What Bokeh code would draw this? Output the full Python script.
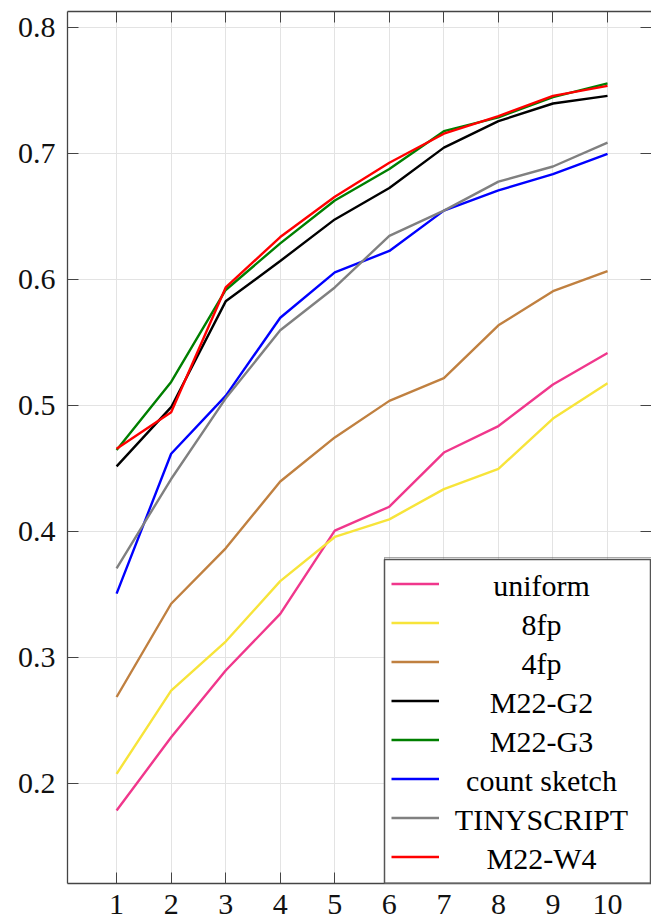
from bokeh.plotting import figure
from bokeh.models import (Legend, LegendItem, LinearAxis, FixedTicker, Range1d, Label,
                          BoxAnnotation)
from bokeh.embed import file_html
from bokeh.resources import INLINE

# x positions (1..10)
steps = [1, 2, 3, 4, 5, 6, 7, 8, 9, 10]

uniform      = [0.179, 0.237, 0.290, 0.335, 0.401, 0.420, 0.463, 0.484, 0.517, 0.542]
fp8          = [0.208, 0.274, 0.313, 0.361, 0.396, 0.410, 0.434, 0.450, 0.490, 0.518]
fp4          = [0.269, 0.343, 0.387, 0.440, 0.475, 0.504, 0.522, 0.564, 0.591, 0.607]
m22_g2       = [0.452, 0.499, 0.583, 0.615, 0.648, 0.673, 0.705, 0.726, 0.740, 0.746]
m22_g3       = [0.465, 0.519, 0.592, 0.629, 0.663, 0.688, 0.718, 0.729, 0.745, 0.756]
count_sketch = [0.351, 0.462, 0.508, 0.570, 0.606, 0.623, 0.655, 0.671, 0.684, 0.700]
tinyscript   = [0.371, 0.442, 0.506, 0.560, 0.594, 0.635, 0.655, 0.678, 0.690, 0.709]
m22_w4       = [0.466, 0.495, 0.594, 0.634, 0.666, 0.693, 0.716, 0.730, 0.746, 0.754]

labels = ["uniform", "8fp", "4fp", "M22-G2", "M22-G3", "count sketch", "TINYSCRIPT", "M22-W4"]
series = [uniform, fp8, fp4, m22_g2, m22_g3, count_sketch, tinyscript, m22_w4]
colors = ["#f0378c", "#f7e43a", "#c08040", "#000000", "#007f00", "#0000ff", "#808080", "#ff0000"]

x_ticks = steps
y_ticks = [0.2, 0.3, 0.4, 0.5, 0.6, 0.7, 0.8]

FONT = "Liberation Serif"
AXIS_COLOR = "#444444"

p = figure(width=651, height=919, output_backend="svg", toolbar_location=None,
           x_range=Range1d(0.1, 10.806), y_range=Range1d(0.121, 0.813),
           min_border_left=67, min_border_right=0, min_border_top=11, min_border_bottom=36,
           x_axis_location=None, y_axis_location=None)
p.outline_line_color = None
p.background_fill_color = "white"
p.border_fill_color = "white"


def style_axis(ax, ticks, show_labels):
    ax.major_tick_in = 11
    ax.major_tick_out = 0
    ax.minor_tick_in = 0
    ax.minor_tick_out = 0
    ax.major_tick_line_color = AXIS_COLOR
    ax.major_tick_line_width = 1
    ax.axis_line_color = AXIS_COLOR
    ax.axis_line_width = 1.3
    if show_labels:
        ax.major_label_text_font = FONT
        ax.major_label_text_font_size = "30px"
        ax.major_label_text_color = "#111111"
    else:
        # tick marks only on the mirrored sides
        ax.major_label_overrides = {t: "" for t in ticks}
        ax.major_label_text_font_size = "1px"
        ax.major_label_standoff = 0


xb = LinearAxis(ticker=FixedTicker(ticks=x_ticks))
style_axis(xb, x_ticks, True)
xb.major_label_standoff = 11
p.add_layout(xb, "below")

xt = LinearAxis(ticker=FixedTicker(ticks=x_ticks))
style_axis(xt, x_ticks, False)
p.add_layout(xt, "above")

yl = LinearAxis(ticker=FixedTicker(ticks=y_ticks))
style_axis(yl, y_ticks, True)
yl.major_label_standoff = 12
p.add_layout(yl, "left")

yr = LinearAxis(ticker=FixedTicker(ticks=y_ticks))
style_axis(yr, y_ticks, False)
yr.axis_line_color = None
p.add_layout(yr, "right")

p.xgrid.ticker = FixedTicker(ticks=x_ticks)
p.ygrid.ticker = FixedTicker(ticks=y_ticks)
p.xgrid.grid_line_color = "#e3e3e3"
p.ygrid.grid_line_color = "#e3e3e3"

items = []
for name, vals, col in zip(labels, series, colors):
    r = p.line(steps, vals, line_color=col, line_width=2.4)
    items.append(LegendItem(label=" ", renderers=[r]))

# legend: white framed panel underneath, swatches from the Legend,
# names centred in the label column by Labels
LEG_X, LEG_PAD, ROW_H, GLYPH_W, LABEL_W = 317, 6, 39, 48, 206
n = len(labels)
leg_w = 2 * LEG_PAD + GLYPH_W + LABEL_W
leg_h = 2 * LEG_PAD + n * ROW_H

p.add_layout(BoxAnnotation(left=LEG_X, right=LEG_X + leg_w, bottom=0, top=leg_h,
                           left_units="screen", right_units="screen",
                           bottom_units="screen", top_units="screen",
                           fill_color="white", fill_alpha=1.0,
                           line_color="#555555", line_width=1.5, line_alpha=1.0,
                           level="annotation"))

legend = Legend(items=items, location=(LEG_X, 0),
                glyph_width=GLYPH_W, glyph_height=ROW_H, label_height=ROW_H,
                label_width=LABEL_W, spacing=0, padding=LEG_PAD, label_standoff=0,
                label_text_font=FONT, label_text_font_size="28px",
                border_line_color="#555555", border_line_width=1.5,
                background_fill_alpha=0.0, margin=0)
p.add_layout(legend, "center")

for i, name in enumerate(labels):
    p.add_layout(Label(x=LEG_X + LEG_PAD + GLYPH_W + LABEL_W / 2,
                       y=LEG_PAD + (n - 1 - i) * ROW_H + ROW_H / 2,
                       x_units="screen", y_units="screen", text=name,
                       text_align="center", text_baseline="middle",
                       text_font=FONT, text_font_size="30px", text_color="#000000",
                       level="overlay"))

open("out.html", "w").write(file_html(p, INLINE))
